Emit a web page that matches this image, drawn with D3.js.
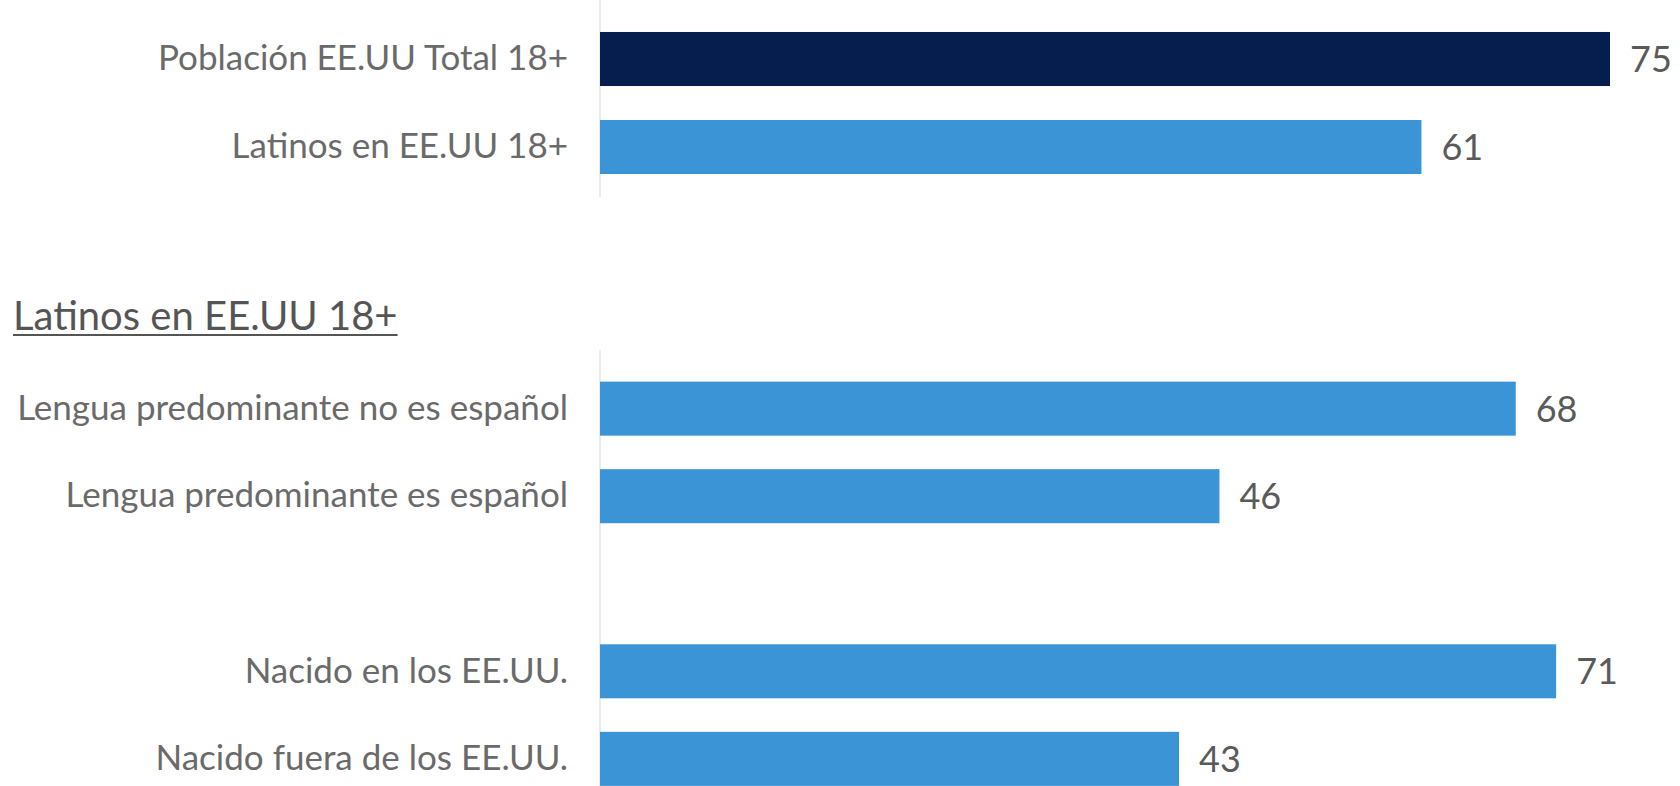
<!DOCTYPE html>
<html>
<head>
<meta charset="utf-8">
<script src="https://cdn.jsdelivr.net/npm/d3@7"></script>
<style>
  html, body { margin: 0; padding: 0; background: #ffffff; }
  svg { display: block; }
  text { font-family: Lato, "Open Sans", sans-serif; }
</style>
</head>
<body>
<svg id="chart" width="1680" height="786"></svg>
<script>
// ---- data ----
const topCategories = ["Población EE.UU Total 18+", "Latinos en EE.UU 18+"];
const topValues = [75, 61];
const topColors = ["#061e4e", "#3a94d6"];

const sectionTitle = "Latinos en EE.UU 18+";

const bottomCategories = [
  "Lengua predominante no es español",
  "Lengua predominante es español",
  "__gap__",
  "Nacido en los EE.UU.",
  "Nacido fuera de los EE.UU."
];
const bottomValues = [68, 46, null, 71, 43];
const bottomColor = "#3a94d6";

// ---- layout ----
const W = 1680, H = 786;
const svg = d3.select("#chart");
const labelColor = "#6a6a6a";
const valueColor = "#5a5a5a";
const axisX = 600;

const x = d3.scaleLinear().domain([0, 75]).range([axisX, 1610]);

const yTop = d3.scaleBand().domain(topCategories).range([15, 191])
  .paddingInner(0.386).paddingOuter(0.193);
const yBot = d3.scaleBand().domain(bottomCategories).range([365, 802.5])
  .paddingInner(0.383).paddingOuter(0.19);

// axis lines
svg.append("line").attr("x1", axisX).attr("x2", axisX).attr("y1", 0).attr("y2", 197)
  .attr("stroke", "#e6e6e6").attr("stroke-width", 1.5);
svg.append("line").attr("x1", axisX).attr("x2", axisX).attr("y1", 350).attr("y2", H)
  .attr("stroke", "#e6e6e6").attr("stroke-width", 1.5);

function drawPanel(cats, vals, yScale, colorFn) {
  const data = cats.map((c, i) => ({ c, v: vals[i], i })).filter(d => d.v != null);
  svg.append("g").selectAll("rect").data(data).join("rect")
    .attr("x", x(0))
    .attr("y", d => yScale(d.c))
    .attr("width", d => x(d.v) - x(0))
    .attr("height", yScale.bandwidth())
    .attr("fill", d => colorFn(d));
  svg.append("g").selectAll("text").data(data).join("text")
    .attr("x", d => x(d.v) + 20)
    .attr("y", d => yScale(d.c) + yScale.bandwidth() / 2)
    .attr("dy", "0.36em")
    .attr("fill", valueColor)
    .style("font-size", "36px")
    .text(d => d.v);
  const ax = d3.axisLeft(yScale).tickSize(0).tickPadding(32)
    .tickFormat(d => d === "__gap__" ? "" : d);
  const g = svg.append("g").attr("transform", `translate(${axisX},0)`).call(ax);
  g.select(".domain").remove();
  g.selectAll("text").attr("fill", labelColor)
    .style("font-size", "35px").style("font-family", "Lato, 'Open Sans', sans-serif");
}

drawPanel(topCategories, topValues, yTop, d => topColors[d.i]);
drawPanel(bottomCategories, bottomValues, yBot, () => bottomColor);

// section title with underline
const title = svg.append("text").attr("x", 13).attr("y", 330)
  .attr("fill", "#555555").style("font-size", "40px").text(sectionTitle);
const bb = title.node().getBBox();
svg.append("line").attr("x1", bb.x).attr("x2", bb.x + bb.width)
  .attr("y1", 335).attr("y2", 335).attr("stroke", "#555555").attr("stroke-width", 2);
</script>
</body>
</html>
